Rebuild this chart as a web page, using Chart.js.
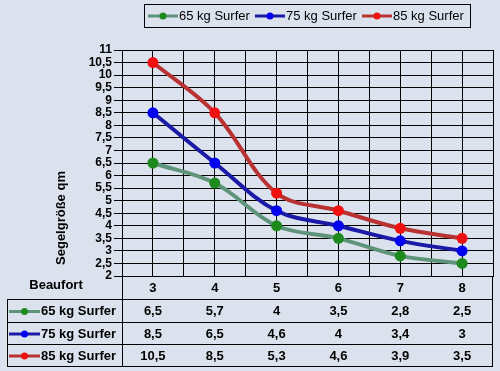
<!DOCTYPE html>
<html>
<head>
<meta charset="utf-8">
<script src="https://cdn.jsdelivr.net/npm/chart.js@4/dist/chart.umd.min.js"></script>
<style>
html,body{margin:0;padding:0;background:#DBE2EE;}
#wrap{width:500px;height:371px;}
</style>
</head>
<body>
<div id="wrap"><canvas id="c" width="500" height="371"></canvas></div>
<script>
const categories = [3, 4, 5, 6, 7, 8];
const seriesNames = ['65 kg Surfer', '75 kg Surfer', '85 kg Surfer'];
const surfer65 = [6.5, 5.7, 4, 3.5, 2.8, 2.5];
const surfer75 = [8.5, 6.5, 4.6, 4, 3.4, 3];
const surfer85 = [10.5, 8.5, 5.3, 4.6, 3.9, 3.5];
const yTicks = [2, 2.5, 3, 3.5, 4, 4.5, 5, 5.5, 6, 6.5, 7, 7.5, 8, 8.5, 9, 9.5, 10, 10.5, 11];
const yTitle = 'Segelgröße qm';
const xTitle = 'Beaufort';

const lineColors = ['#5E947A', '#1A1AA6', '#B83232'];
const markerColors = ['#1E8A1E', '#0000F0', '#F01010'];
const seriesValues = [surfer65, surfer75, surfer85];

const fmt = v => String(v).replace('.', ',');
const FONT = '"Liberation Sans", Arial, sans-serif';

function drawKey(ctx, x1, x2, y, i) {
  ctx.save();
  ctx.strokeStyle = lineColors[i];
  ctx.lineWidth = 3;
  ctx.beginPath(); ctx.moveTo(x1, y); ctx.lineTo(x2, y); ctx.stroke();
  ctx.fillStyle = markerColors[i];
  ctx.beginPath(); ctx.arc((x1 + x2) / 2, y, 3.5, 0, Math.PI * 2); ctx.fill();
  ctx.restore();
}

const extras = {
  id: 'extras',
  beforeDraw(chart) {
    const ctx = chart.ctx;
    ctx.save();
    ctx.fillStyle = '#DBE2EE';
    ctx.fillRect(0, 0, chart.width, chart.height);
    ctx.restore();
  },
  afterDraw(chart) {
    const ctx = chart.ctx;
    const xs = chart.scales.x, ys = chart.scales.y;
    const L = xs.left, R = xs.right, B = ys.bottom;
    const tL = 7;
    const rowY = [299, 322, 344, 366];
    ctx.save();
    ctx.strokeStyle = '#000';
    ctx.lineWidth = 1;
    ctx.beginPath();
    ctx.moveTo(L + 0.5, B); ctx.lineTo(L + 0.5, rowY[3] + 0.5);
    ctx.moveTo(Math.round(R) - 0.5, B); ctx.lineTo(Math.round(R) - 0.5, rowY[3] + 0.5);
    ctx.moveTo(tL + 0.5, rowY[0]); ctx.lineTo(tL + 0.5, rowY[3] + 0.5);
    rowY.forEach(y => { ctx.moveTo(tL, y + 0.5); ctx.lineTo(Math.round(R), y + 0.5); });
    ctx.stroke();
    ctx.fillStyle = '#000';
    ctx.font = 'bold 13px ' + FONT;
    ctx.textAlign = 'center';
    ctx.textBaseline = 'middle';
    categories.forEach(c => ctx.fillText(String(c), xs.getPixelForValue(c), 288));
    ctx.fillText(xTitle, 56, 285);
    for (let i = 0; i < 3; i++) {
      const yc = (rowY[i] + rowY[i + 1]) / 2 + 1;
      drawKey(ctx, 9, 40, yc, i);
      ctx.fillStyle = '#000';
      ctx.textAlign = 'left';
      ctx.fillText(seriesNames[i], 41, yc);
      ctx.textAlign = 'center';
      seriesValues[i].forEach((v, j) => ctx.fillText(fmt(v), xs.getPixelForValue(categories[j]), yc));
    }
    ctx.save();
    ctx.translate(61, 218);
    ctx.rotate(-Math.PI / 2);
    ctx.textAlign = 'center';
    ctx.fillText(yTitle, 0, 0);
    ctx.restore();
    ctx.strokeStyle = '#000';
    ctx.strokeRect(144.5, 4.5, 326, 23);
    const lx = [148, 255, 362];
    ctx.font = '13px ' + FONT;
    ctx.textAlign = 'left';
    for (let i = 0; i < 3; i++) {
      drawKey(ctx, lx[i], lx[i] + 30, 16, i);
      ctx.fillStyle = '#000';
      ctx.fillText(seriesNames[i], lx[i] + 31, 16);
    }
    ctx.restore();
  }
};

new Chart(document.getElementById('c'), {
  type: 'line',
  data: {
    datasets: seriesNames.map((n, i) => ({
      label: n,
      data: categories.map((c, j) => ({ x: c, y: seriesValues[i][j] })),
      borderColor: lineColors[i],
      backgroundColor: markerColors[i],
      pointBackgroundColor: markerColors[i],
      pointBorderColor: markerColors[i],
      pointRadius: 5.5,
      pointBorderWidth: 0,
      borderWidth: 4,
      tension: 0.35,
      fill: false
    }))
  },
  options: {
    responsive: false,
    animation: false,
    devicePixelRatio: 1,
    layout: { padding: { top: 50, bottom: 95, left: 0, right: 7 } },
    plugins: { legend: { display: false }, tooltip: { enabled: false } },
    scales: {
      x: {
        type: 'linear', min: 2.5, max: 8.5,
        ticks: { display: false, stepSize: 0.5 },
        grid: { color: '#000', lineWidth: 1, drawTicks: false },
        border: { color: '#000' },
        afterFit(s) { s.height = 0; }
      },
      y: {
        min: 2, max: 11,
        afterBuildTicks(s) { s.ticks = yTicks.map(v => ({ value: v })); },
        ticks: {
          color: '#000', padding: 2, autoSkip: false,
          font: { family: FONT, size: 12, weight: 'bold', lineHeight: 1 },
          callback: v => fmt(v)
        },
        grid: { color: '#000', lineWidth: 1, tickLength: 8 },
        border: { color: '#000' },
        afterFit(s) { s.width = 122; }
      }
    }
  },
  plugins: [extras]
});
</script>
</body>
</html>
